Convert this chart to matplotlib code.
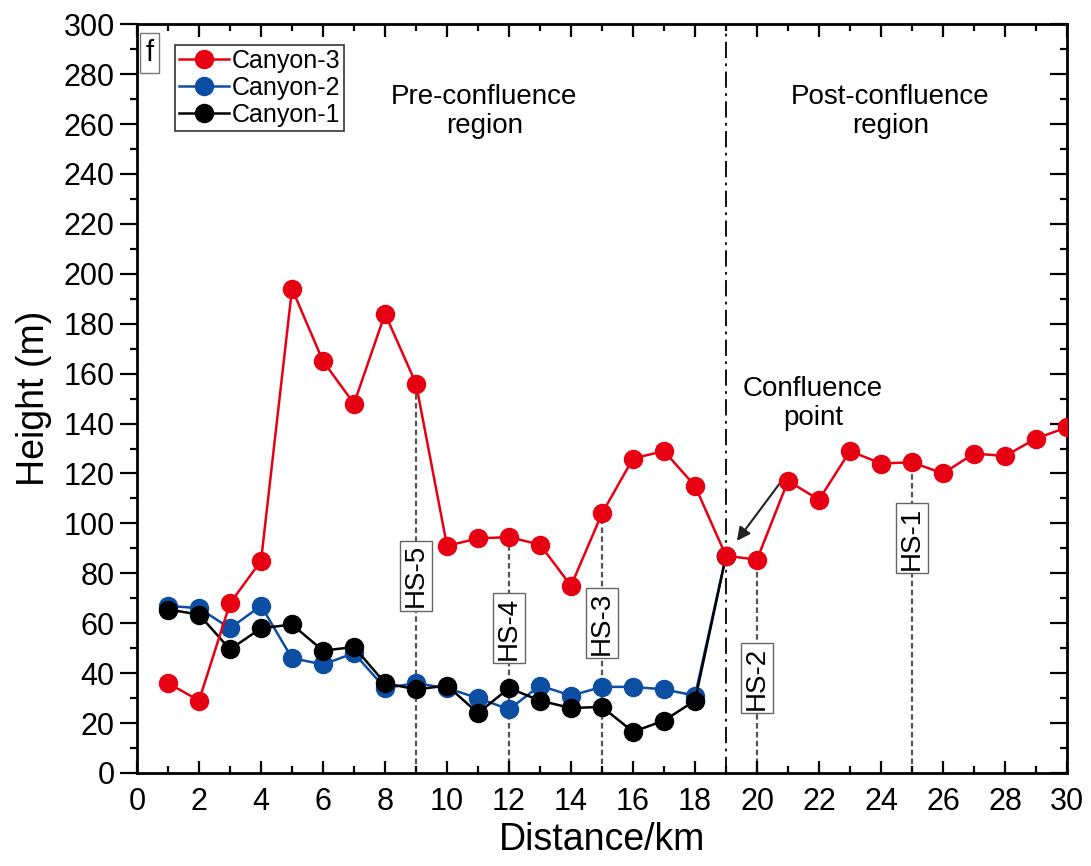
import matplotlib
matplotlib.use("Agg")
import matplotlib.pyplot as plt
from matplotlib.lines import TICKLEFT

plt.rcParams['font.family'] = ['Liberation Sans', 'DejaVu Sans']

# distance (km)
dist_c3 = list(range(1, 31))
dist_c12 = list(range(1, 20))

canyon3 = [36, 29, 68, 85, 194, 165, 148, 184, 156, 91,
           94, 94.5, 91.5, 75, 104, 126, 129, 115, 87, 85.5,
           117, 109.5, 129, 124, 124.5, 120, 128, 127, 134, 138.5]
canyon2 = [67, 66, 58, 67, 46, 43.5, 48, 34, 36, 34,
           30, 25.5, 35, 31, 34.5, 34.5, 33.5, 31, 87]
canyon1 = [65.5, 63.5, 49.5, 58, 59.5, 49, 50.5, 36, 33.5, 35,
           24, 34, 29, 26, 26.5, 16.5, 21, 29, 87]

# cross sections: label, distance, label centre height
hs_names = ['HS-5', 'HS-4', 'HS-3', 'HS-2', 'HS-1']
hs_dist = [9, 12, 15, 20, 25]
hs_label_y = [79, 58, 60, 38, 94]

confluence_x = 19

red = '#E60012'
blue = '#0B4EA2'

fig = plt.figure(figsize=(10.91, 8.66), dpi=100)
ax = fig.add_axes([0.1256, 0.1074, 0.8524, 0.8646])

# HS section lines, from the bottom up to the canyon-3 profile
for name, d, ly in zip(hs_names, hs_dist, hs_label_y):
    top = canyon3[dist_c3.index(d)]
    ax.plot([d, d], [0, top], color='#555555', lw=1.6, ls=(0, (2.5, 1.5)), zorder=1)
    ax.text(d, ly, name, rotation=90, ha='center', va='center', fontsize=20,
            bbox=dict(boxstyle='square,pad=0.12', fc='white', ec='#666666', lw=1),
            zorder=2)

ax.axvline(confluence_x, color='black', lw=1.3, ls=(0, (9, 3, 1.5, 3)), zorder=1)

ax.plot(dist_c12, canyon2, '-o', color=blue, lw=1.8, ms=13, label='Canyon-2', zorder=3)
ax.plot(dist_c12, canyon1, '-o', color='black', lw=1.8, ms=13, label='Canyon-1', zorder=4)
ax.plot(dist_c3, canyon3, '-o', color=red, lw=1.8, ms=13, label='Canyon-3', zorder=5)

ax.text(11.2, 265, 'Pre-confluence\nregion', ha='center', va='center', fontsize=20,
        linespacing=1.15)
ax.text(24.3, 265, 'Post-confluence\nregion', ha='center', va='center', fontsize=20,
        linespacing=1.15)
ax.text(21.8, 148, 'Confluence\npoint', ha='center', va='center', fontsize=20,
        linespacing=1.15)
ax.annotate('', xy=(19.35, 93), xytext=(20.85, 118),
            arrowprops=dict(arrowstyle='-|>', color='#222222', lw=1.5,
                            shrinkA=0, shrinkB=0, mutation_scale=20))

ax.text(0.009, 0.98, 'f', transform=ax.transAxes, ha='left', va='top', fontsize=21,
        bbox=dict(boxstyle='square,pad=0.2', fc='white', ec='#777777', lw=1))

handles, labels = ax.get_legend_handles_labels()
order = [2, 0, 1]
leg = ax.legend([handles[i] for i in order], [labels[i] for i in order],
                loc='upper left', bbox_to_anchor=(0.041, 0.972), fontsize=18,
                frameon=True, fancybox=False, edgecolor='black',
                handlelength=2.0, handletextpad=0.1, borderpad=0.15,
                labelspacing=0.12, borderaxespad=0)
leg.get_frame().set_linewidth(1.2)

ax.set_xlim(0, 30)
ax.set_ylim(0, 300)
ax.set_xticks(range(0, 31, 2))
ax.set_xticks(range(0, 31, 1), minor=True)
ax.set_yticks(range(0, 301, 20))
ax.set_yticks(range(0, 301, 10), minor=True)
ax.tick_params(which='both', direction='in', top=True, right=True, width=1.6)
ax.tick_params(axis='y', which='both', direction='out')
ax.tick_params(which='major', length=9, labelsize=22)
ax.tick_params(which='minor', length=5)
ax.tick_params(axis='x', which='major', pad=10)
ax.tick_params(axis='y', which='major', length=12, pad=4)
for s in ax.spines.values():
    s.set_linewidth(2)

# right-side ticks point inward while left ones point out
for t in ax.yaxis.get_major_ticks() + ax.yaxis.get_minor_ticks():
    t.tick2line.set_marker(TICKLEFT)

ax.set_xlabel('Distance/km', fontsize=27, labelpad=4)
ax.set_ylabel('Height (m)', fontsize=27, labelpad=8)

fig.savefig('out.png', dpi=100)
